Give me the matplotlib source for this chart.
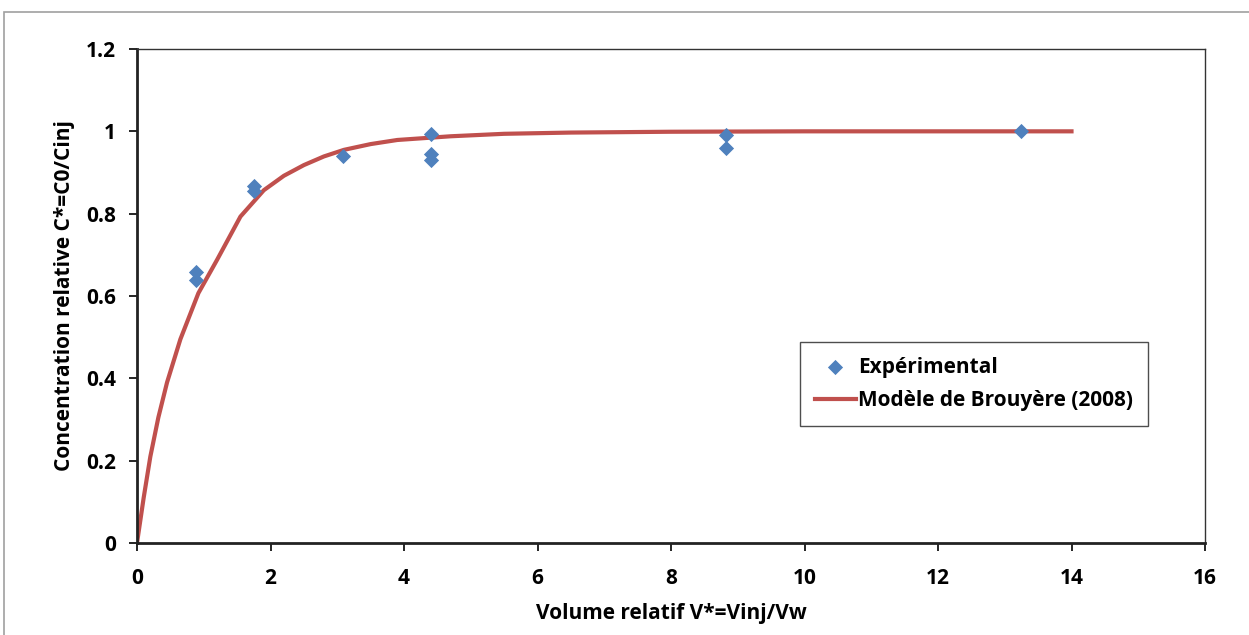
import matplotlib.pyplot as plt
from matplotlib.patches import Rectangle

# experimental points
v_exp = [0.88, 0.88, 1.76, 1.76, 3.08, 4.41, 4.41, 4.41, 8.83, 8.83, 13.25]
c_exp = [0.659, 0.639, 0.868, 0.854, 0.939, 0.994, 0.944, 0.930, 0.991, 0.960, 1.0]

# Brouyere (2008) model
v_mod = [0, 0.1, 0.2, 0.32, 0.45, 0.65, 0.92, 1.2, 1.55, 1.9, 2.2, 2.5, 2.8, 3.1, 3.5, 3.9,
         4.7, 5.5, 6.5, 8, 10, 12, 14]
c_mod = [0, 0.11, 0.21, 0.305, 0.39, 0.495, 0.607, 0.688, 0.793, 0.857, 0.892, 0.918, 0.939,
         0.955, 0.969, 0.979, 0.988, 0.994, 0.997, 0.999, 1.0, 1.0, 1.0]

xticks = [0, 2, 4, 6, 8, 10, 12, 14, 16]
yticks = [0, 0.2, 0.4, 0.6, 0.8, 1, 1.2]
ylabels = ['0', '0.2', '0.4', '0.6', '0.8', '1', '1.2']

plt.rcParams['font.family'] = ['Open Sans', 'DejaVu Sans']
plt.rcParams['font.weight'] = 'bold'

fig = plt.figure(figsize=(12.49, 6.35), dpi=100)
ax = fig.add_axes([137/1249, 1 - 543/635, (1205-137)/1249, (543-49)/635])

# chart frame
fig.patches.append(Rectangle((4/1249, -0.1), 1.2, 1.1 - 12/635, transform=fig.transFigure,
                             fill=False, edgecolor='#a0a0a0', linewidth=1.2))

ax.plot(v_mod, c_mod, color='#c0504d', linewidth=3, label='Modèle de Brouyère (2008)', zorder=2,
        solid_joinstyle='round')
ax.scatter(v_exp, c_exp, marker='D', s=60, color='#4f81bd', label='Expérimental', zorder=3,
           linewidths=0)

ax.set_xlim(0, 16)
ax.set_ylim(0, 1.2)
ax.set_xticks(xticks)
ax.set_yticks(yticks)
ax.set_yticklabels(ylabels)
ax.tick_params(direction='out', length=6, width=1.2, labelsize=15)
ax.tick_params(axis='x', pad=12)
ax.tick_params(axis='y', pad=9)
for lab in ax.get_xticklabels() + ax.get_yticklabels():
    lab.set_fontweight('bold')

for s in ['left', 'bottom']:
    ax.spines[s].set_linewidth(2)
    ax.spines[s].set_color('#222222')
for s in ['top', 'right']:
    ax.spines[s].set_linewidth(1)
    ax.spines[s].set_color('#333333')

ax.set_xlabel('Volume relatif V*=Vinj/Vw', fontsize=15, fontweight='bold', labelpad=10)
ax.set_ylabel('Concentration relative C*=C0/Cinj', fontsize=15, fontweight='bold', labelpad=8)

h, l = ax.get_legend_handles_labels()
leg = ax.legend(h[::-1], l[::-1], loc='upper left', bbox_to_anchor=((800-137)/1068, (543-342)/494),
                borderaxespad=0, fontsize=15, frameon=True, fancybox=False, handlelength=2.0,
                handletextpad=0.1, borderpad=0.7, labelspacing=0.6, scatterpoints=1)
leg.get_frame().set_edgecolor('#222222')
leg.get_frame().set_linewidth(1)
for t in leg.get_texts():
    t.set_fontweight('bold')

fig.savefig('out.png', dpi=100)
